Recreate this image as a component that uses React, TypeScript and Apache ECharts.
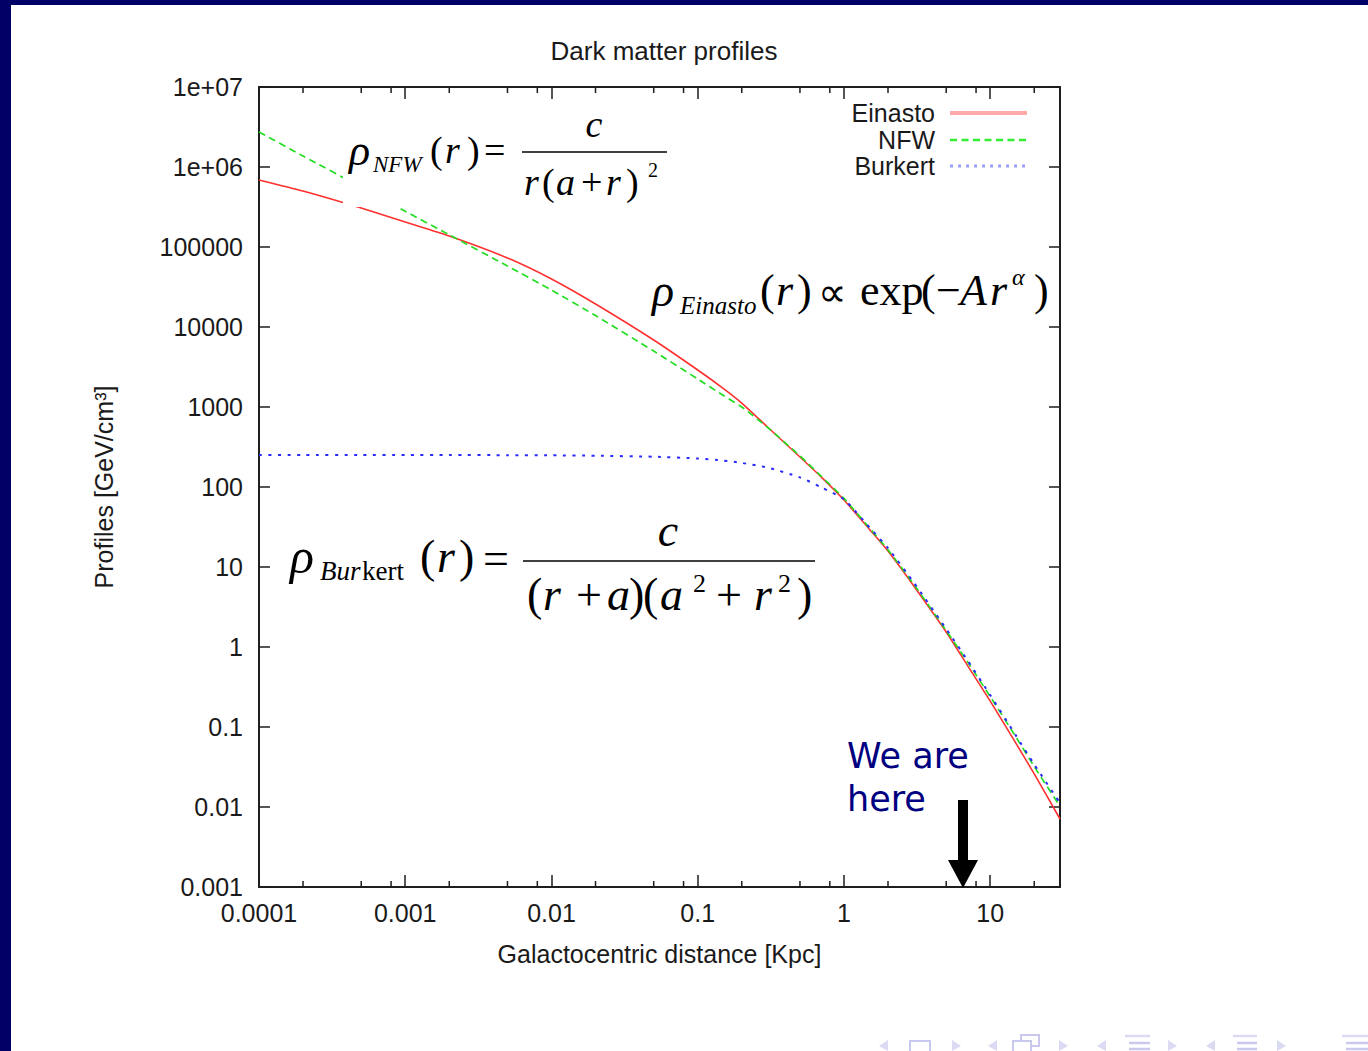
import React, { useEffect, useRef } from 'react';
import * as echarts from 'echarts';

// Galactocentric distance samples [kpc]
const R_KPC = [1e-4, 2e-4, 5e-4, 1e-3, 2e-3, 5e-3, 0.01, 0.02, 0.05, 0.1, 0.15, 0.2, 0.3, 0.5, 0.7, 1, 1.5, 2, 3, 5, 7, 10, 15, 20, 30];
// Profiles [GeV/cm^3]
const EINASTO = [6.88e5, 5.0e5, 3.07e5, 2.05e5, 1.37e5, 7.29e4, 3.98e4, 1.94e4, 6.88e3, 2.9e3, 1.70e3, 1.12e3, 562, 237, 133, 68.8, 29.3, 15.8, 5.79, 1.54, 0.585, 0.211, 0.0624, 0.0259, 0.00708];
const NFW = [2.74e6, 1.37e6, 5.6e5, 2.8e5, 1.42e5, 5.79e4, 2.9e4, 1.39e4, 5.0e3, 2.24e3, 1.39e3, 1.0e3, 556, 245, 136, 72, 30.5, 16.4, 6.1, 1.6, 0.65, 0.24, 0.075, 0.032, 0.0102];
const BURKERT = [251, 251, 251, 251, 251, 250, 249, 246, 239, 227, 214, 200, 175, 132, 99, 70, 31, 17.2, 6.4, 1.68, 0.68, 0.25, 0.078, 0.034, 0.0112];

const X_MIN = 1e-4;
const X_MAX = 30;
const Y_MIN = 1e-3;
const Y_MAX = 1e7;
const X_TICK_LABELS = ['0.0001', '0.001', '0.01', '0.1', '1', '10'];
const Y_TICK_LABELS = ['0.001', '0.01', '0.1', '1', '10', '100', '1000', '10000', '100000', '1e+06', '1e+07'];
const X_MINOR = [2e-4, 5e-4, 8e-4, 2e-3, 5e-3, 8e-3, 0.02, 0.05, 0.08, 0.2, 0.5, 0.8, 2, 5, 8, 20];

const SANS = '"Liberation Sans", Arial, sans-serif';
const SERIF = '"Liberation Serif", "Times New Roman", serif';
const VERDANA = '"DejaVu Sans", Verdana, sans-serif';
const AX = '#1e1e1e';

function T(text: string, x: number, y: number, size: number, italic = false, align = 'left', font = SERIF, fill = '#000') {
  return {
    type: 'text', x, y, z: 60, silent: true,
    style: { text, fontFamily: font, fontSize: size, fontStyle: italic ? 'italic' : 'normal', fill, align, verticalAlign: 'middle' },
  };
}
function L(x1: number, y1: number, x2: number, y2: number, stroke = '#000', lineWidth = 1.5, lineDash?: number[]) {
  return { type: 'line', z: 60, silent: true, shape: { x1, y1, x2, y2 }, style: { stroke, lineWidth, lineDash } };
}

export default function App() {
  const ref = useRef<HTMLDivElement>(null);
  useEffect(() => {
    if (!ref.current) return;
    const chart = echarts.init(ref.current, undefined, { renderer: 'svg' });
    const grid = { left: 259, top: 87, width: 801, height: 800 };
    const lx = Math.log10(X_MIN);
    const hx = Math.log10(X_MAX);
    const ly = Math.log10(Y_MIN);
    const hy = Math.log10(Y_MAX);
    const isInt = (v: number) => Math.abs(v - Math.round(v)) < 1e-6;
    const axLine = { show: true, onZero: false, lineStyle: { color: AX, width: 2 } };
    const tick = (len: number) => ({ show: true, inside: true, length: len, lineStyle: { color: AX, width: 1.5 } });
    const lab = { fontSize: 25, fontFamily: SANS, color: '#1a1a1a' };

    const navC = '#c9c9ee';
    const navT = '#dadaf3';
    const tri = (x: number, right: boolean) => ({
      type: 'polygon', z: 60, silent: true,
      shape: { points: right ? [[x, 1040], [x, 1051], [x + 9, 1046]] : [[x + 9, 1040], [x + 9, 1051], [x, 1046]] },
      style: { fill: navT },
    });
    const bars = (x: number, w: number) => [
      L(x, 1036, x + w, 1036, navT, 2.5), L(x + 4, 1043, x + w, 1043, navC, 2.5), L(x + 4, 1049, x + w, 1049, navC, 2.5),
    ];
    const lineSeries = (name: string, values: number[], lineStyle: any) => ({
      name, type: 'line', xAxisIndex: 0, yAxisIndex: 0, showSymbol: false,
      smooth: 0.2,
      data: R_KPC.map((r, i) => [r, values[i]]),
      lineStyle,
    });

    chart.setOption({
      animation: false,
      backgroundColor: '#ffffff',
      title: {
        text: 'Dark matter profiles', left: 659, top: 33, textAlign: 'center',
        textStyle: { fontSize: 26, fontWeight: 'normal', fontFamily: SANS, color: '#1a1a1a' },
      },
      grid,
      xAxis: [
        { type: 'log', min: X_MIN, max: X_MAX, show: false, gridIndex: 0 },
        {
          type: 'value', min: lx, max: hx, interval: 1, position: 'bottom', gridIndex: 0,
          axisLine: axLine, axisTick: tick(12), splitLine: { show: false },
          axisLabel: { ...lab, margin: 13, formatter: (v: number) => (isInt(v) ? X_TICK_LABELS[Math.round(v - lx)] : '') },
          name: 'Galactocentric distance [Kpc]', nameLocation: 'middle', nameGap: 54,
          nameTextStyle: { fontSize: 25, fontFamily: SANS, color: '#1a1a1a' },
        },
        {
          type: 'value', min: lx, max: hx, interval: 1, position: 'top', gridIndex: 0,
          axisLine: axLine, axisTick: tick(12), splitLine: { show: false }, axisLabel: { show: false },
        },
      ],
      yAxis: [
        { type: 'log', min: Y_MIN, max: Y_MAX, show: false, gridIndex: 0 },
        {
          type: 'value', min: ly, max: hy, interval: 1, position: 'left', gridIndex: 0,
          axisLine: axLine, axisTick: tick(11), splitLine: { show: false },
          axisLabel: { ...lab, margin: 16, formatter: (v: number) => (isInt(v) ? Y_TICK_LABELS[Math.round(v - ly)] : '') },
          name: 'Profiles [GeV/cm³]', nameLocation: 'middle', nameGap: 143,
          nameTextStyle: { fontSize: 25, fontFamily: SANS, color: '#1a1a1a' },
        },
        {
          type: 'value', min: ly, max: hy, interval: 1, position: 'right', gridIndex: 0,
          axisLine: axLine, axisTick: tick(11), splitLine: { show: false }, axisLabel: { show: false },
        },
      ],
      series: [
        lineSeries('Einasto', EINASTO, { color: '#ff3030', width: 1.6 }),
        lineSeries('NFW', NFW, { color: '#22dd22', width: 1.7, type: [7, 4.5] }),
        lineSeries('Burkert', BURKERT, { color: '#2a2aff', width: 2, type: [3, 6.5] }),
        {
          type: 'custom', xAxisIndex: 0, yAxisIndex: 0, silent: true, clip: false, z: 5,
          data: X_MINOR.map((v) => [v, Y_MIN]),
          renderItem: (_p: any, api: any) => {
            const v = api.value(0);
            const b = api.coord([v, Y_MIN]);
            const t = api.coord([v, Y_MAX]);
            const st = { stroke: AX, lineWidth: 1.5 };
            return {
              type: 'group',
              children: [
                { type: 'line', shape: { x1: b[0], y1: b[1], x2: b[0], y2: b[1] - 6 }, style: st },
                { type: 'line', shape: { x1: t[0], y1: t[1], x2: t[0], y2: t[1] + 6 }, style: st },
              ],
            };
          },
        },
      ],
      graphic: [
        // slide frame
        { type: 'rect', z: 70, silent: true, shape: { x: 0, y: 0, width: 1368, height: 5 }, style: { fill: '#000066' } },
        { type: 'rect', z: 70, silent: true, shape: { x: 0, y: 0, width: 11, height: 1051 }, style: { fill: '#000066' } },
        // legend
        T('Einasto', 935, 113, 25, false, 'right', SANS, '#1a1a1a'),
        T('NFW', 935, 140, 25, false, 'right', SANS, '#1a1a1a'),
        T('Burkert', 935, 166, 25, false, 'right', SANS, '#1a1a1a'),
        L(950, 113, 1027, 113, '#ffaaaa', 4),
        L(950, 140, 1027, 140, '#33ee33', 2.5, [7, 4.5]),
        L(950, 166, 1027, 166, '#9d9dff', 3, [3, 5]),
        // NFW formula
        { type: 'rect', z: 55, silent: true, shape: { x: 343, y: 100, width: 327, height: 107 }, style: { fill: '#ffffff' } },
        T('ρ', 349, 150, 44, true),
        T('NFW', 373, 164, 23, true),
        T('(', 430, 150, 38), T('r', 445, 150, 38, true), T(')', 467, 150, 38),
        T('=', 484, 150, 38),
        L(522, 152, 667, 152, '#000', 1.5),
        T('c', 594, 124, 38, true, 'center'),
        T('r', 524, 182, 38, true), T('(', 542, 182, 38), T('a', 556, 182, 38, true),
        T('+', 581, 182, 38), T('r', 606, 182, 38, true), T(')', 626, 182, 38),
        T('2', 648, 170, 20),
        // Einasto formula
        T('ρ', 652, 290, 46, true),
        T('Einasto', 680, 305, 25, true),
        T('(', 760, 290, 44), T('r', 776, 290, 44, true), T(')', 797, 290, 44),
        T('∝', 818, 292, 40),
        T('exp', 860, 290, 44), T('(', 921, 290, 44), T('−', 936, 290, 44),
        T('A', 960, 290, 44, true), T('r', 990, 290, 44, true),
        T('α', 1012, 277, 24, true),
        T(')', 1034, 290, 44),
        // Burkert formula
        T('ρ', 290, 556, 50, true),
        T('Bur', 320, 571, 27, true), T('kert', 362, 571, 27),
        T('(', 420, 556, 46), T('r', 437, 556, 46, true), T(')', 459, 556, 46),
        T('=', 483, 558, 46),
        L(523, 561, 815, 561, '#000', 1.5),
        T('c', 668, 530, 46, true, 'center'),
        T('(', 527, 594, 46), T('r', 543, 594, 46, true), T('+', 576, 594, 46), T('a', 607, 594, 46, true),
        T(')', 629, 594, 46), T('(', 643, 594, 46), T('a', 660, 594, 46, true), T('2', 693, 583, 26),
        T('+', 716, 594, 46), T('r', 754, 594, 46, true), T('2', 778, 583, 26), T(')', 797, 594, 46),
        // annotation
        T('We are', 847, 756, 35, false, 'left', VERDANA, '#000080'),
        T('here', 847, 799, 35, false, 'left', VERDANA, '#000080'),
        { type: 'rect', z: 60, silent: true, shape: { x: 958, y: 800, width: 10, height: 62 }, style: { fill: '#000' } },
        { type: 'polygon', z: 60, silent: true, shape: { points: [[948, 860], [978, 860], [963, 888]] }, style: { fill: '#000' } },
        // navigation symbols
        tri(879, false),
        { type: 'rect', z: 60, silent: true, shape: { x: 910, y: 1041, width: 20, height: 14 }, style: { fill: 'none', stroke: navC, lineWidth: 2 } },
        tri(952, true),
        tri(988, false),
        { type: 'rect', z: 60, silent: true, shape: { x: 1021, y: 1035, width: 18, height: 11 }, style: { fill: 'none', stroke: navC, lineWidth: 2 } },
        { type: 'rect', z: 60, silent: true, shape: { x: 1013, y: 1041, width: 18, height: 12 }, style: { fill: '#fff', stroke: navC, lineWidth: 2 } },
        tri(1059, true),
        tri(1097, false),
        ...bars(1125, 25),
        tri(1168, true),
        tri(1206, false),
        ...bars(1233, 24),
        tri(1277, true),
        ...bars(1342, 26),
      ],
    });
    return () => chart.dispose();
  }, []);
  return <div ref={ref} style={{ position: 'fixed', left: 0, top: 0, width: 1368, height: 1051, background: '#fff' }} />;
}
